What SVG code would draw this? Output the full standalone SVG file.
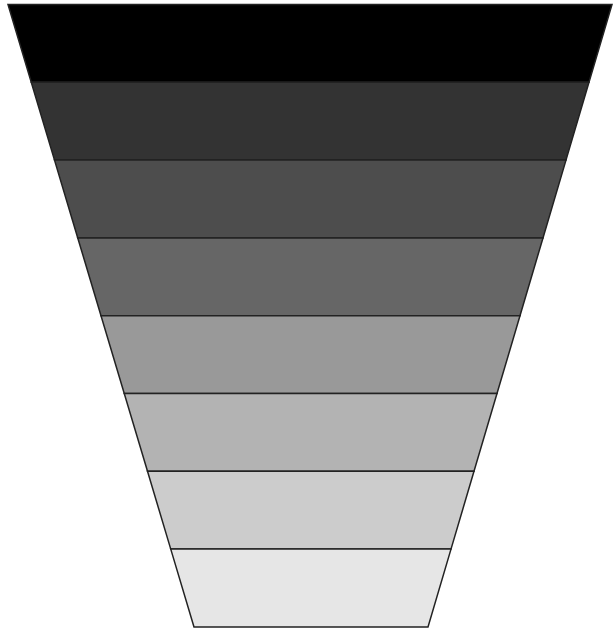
<svg xmlns="http://www.w3.org/2000/svg" width="613" height="629" viewBox="0 0 613 629">
<style>
.b{stroke:#222;stroke-width:1.5;stroke-linejoin:miter}
</style>
<rect width="613" height="629" fill="#fff"/>
<g id="band1"><polygon class="b" fill="#000000" points="8,4.5 612,4.5 589,82.3 31.25,82.3"/></g>
<g id="band2"><polygon class="b" fill="#333333" points="31.25,82.3 589,82.3 566,160.1 54.5,160.1"/></g>
<g id="band3"><polygon class="b" fill="#4d4d4d" points="54.5,160.1 566,160.1 543,237.9 77.75,237.9"/></g>
<g id="band4"><polygon class="b" fill="#666666" points="77.75,237.9 543,237.9 520,315.7 101,315.7"/></g>
<g id="band5"><polygon class="b" fill="#999999" points="101,315.7 520,315.7 497,393.5 124.25,393.5"/></g>
<g id="band6"><polygon class="b" fill="#b3b3b3" points="124.25,393.5 497,393.5 474,471.3 147.5,471.3"/></g>
<g id="band7"><polygon class="b" fill="#cccccc" points="147.5,471.3 474,471.3 451,549.1 170.75,549.1"/></g>
<g id="band8"><polygon class="b" fill="#e6e6e6" points="170.75,549.1 451,549.1 428,626.9 194,626.9"/></g>
<g id="connectors"></g>
</svg>
